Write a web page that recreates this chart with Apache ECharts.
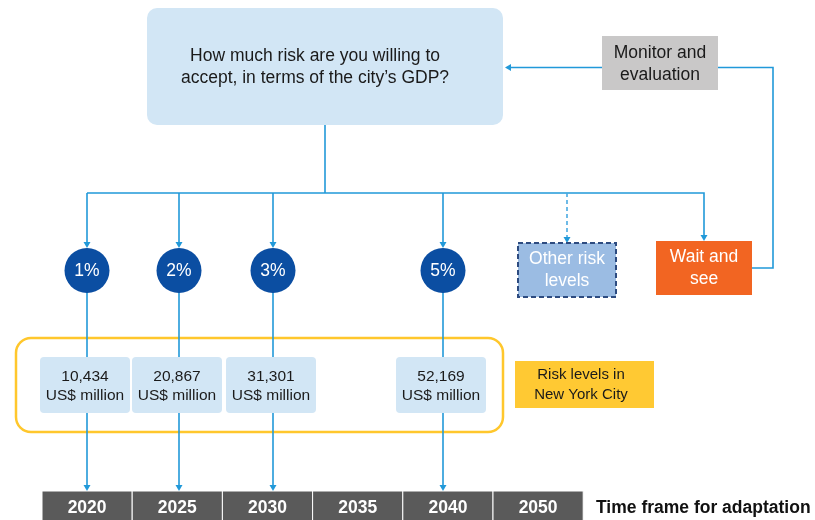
<!DOCTYPE html>
<html>
<head>
<meta charset="utf-8">
<title>Risk levels and time frame for adaptation</title>
<script src="https://cdn.jsdelivr.net/npm/echarts@6/dist/echarts.min.js"></script>
<style>
  html, body { margin: 0; padding: 0; background: #fff; }
  #chart { width: 815px; height: 520px; }
</style>
</head>
<body>
<div id="chart"></div>
<script>
const years = ['2020', '2025', '2030', '2035', '2040', '2050'];
const riskLevels = ['1%', '2%', '3%', '5%'];
const riskYears = ['2020', '2025', '2030', '2040'];
const riskValues = [10434, 20867, 31301, 52169];
const valueUnit = 'US$ million';
const question = ['How much risk are you willing to', 'accept, in terms of the city\u2019s GDP?'];
const monitorLabel = ['Monitor and', 'evaluation'];
const otherLabel = ['Other risk', 'levels'];
const waitLabel = ['Wait and', 'see'];
const riskNote = ['Risk levels in', 'New York City'];
const timeframeLabel = 'Time frame for adaptation';

// layout: both axes run in px over the whole canvas (0..815, 0..520 top-down)
const FONT = '"Liberation Sans", Arial, sans-serif';
const LINE = '#2199d9';
const branchY = 193;
const branchX = [87, 179, 273, 443];   // one column per risk level
const otherX = 567;
const waitX = 704;
const cellLeft = 42;
const cellW = 90.2;
const cellTop = 491;

function rect(api, x0, y0, x1, y1, style, r) {
  const a = api.coord([x0, y0]);
  const b = api.coord([x1, y1]);
  return {
    type: 'rect',
    shape: { x: a[0], y: a[1], width: b[0] - a[0], height: b[1] - a[1], r: r || 0 },
    style: style
  };
}

function line(api, pts, extra) {
  return {
    type: 'polyline',
    shape: { points: pts.map(p => api.coord(p)) },
    style: Object.assign({ fill: null, stroke: LINE, lineWidth: 1.6 }, extra)
  };
}

function arrow(api, x, y, dir) {
  const t = api.coord([x, y]);
  const pts = dir === 'left'
    ? [[t[0] + 6, t[1] - 3.5], [t[0] + 6, t[1] + 3.5], t]
    : [[t[0] - 3.5, t[1] - 6], [t[0] + 3.5, t[1] - 6], t];
  return { type: 'polygon', shape: { points: pts }, style: { fill: LINE } };
}

function text(api, x, y, lines, size, color, weight, lh, align) {
  const p = api.coord([x, y]);
  return {
    type: 'text',
    x: p[0],
    y: p[1],
    style: {
      text: [].concat(lines).join('\n'),
      fill: color,
      fontSize: size,
      fontFamily: FONT,
      fontWeight: weight || 'normal',
      lineHeight: lh || size * 1.2,
      textAlign: align || 'center',
      textVerticalAlign: 'middle'
    }
  };
}

function renderFlow(params, api) {
  const topY = 67.5;
  return {
    type: 'group',
    children: [
      // risk levels frame
      rect(api, 16, 338, 503, 432, { fill: null, stroke: '#ffc72c', lineWidth: 2.5 }, 15),
      rect(api, 515, 361, 654, 408, { fill: '#ffc933' }),
      text(api, 581, 385, riskNote, 15, '#1a1a1a', 'normal', 20),
      // question box
      rect(api, 147, 8, 503, 125, { fill: '#d2e6f5' }, 10),
      text(api, 315, 67, question, 17.5, '#1a1a1a', 'normal', 22),
      // connectors
      line(api, [[325, 125], [325, branchY]]),
      line(api, [[branchX[0], branchY], [waitX, branchY], [waitX, 235]]),
      arrow(api, waitX, 241, 'down'),
      line(api, [[otherX, branchY], [otherX, 237]], { stroke: '#4aaae2', lineDash: [4, 3] }),
      arrow(api, otherX, 243, 'down'),
      // monitor loop
      line(api, [[752, 268], [773, 268], [773, topY], [718, topY]]),
      line(api, [[602, topY], [510, topY]]),
      arrow(api, 505, topY, 'left'),
      rect(api, 602, 36, 718, 90, { fill: '#c9c8c8' }),
      text(api, 660, 64, monitorLabel, 17.5, '#1a1a1a', 'normal', 22),
      // other options
      rect(api, 518, 243, 616, 297, { fill: '#9bbce3', stroke: '#2d4b80', lineWidth: 2, lineDash: [5, 3] }),
      text(api, 567, 270, otherLabel, 17.5, '#ffffff', 'normal', 22),
      rect(api, 656, 241, 752, 295, { fill: '#f26522' }),
      text(api, 704, 268, waitLabel, 17.5, '#ffffff', 'normal', 22),
      // time frame caption
      text(api, 596, 508, timeframeLabel, 17.5, '#111111', 'bold', 20, 'left')
    ]
  };
}

function renderCell(params, api) {
  const i = api.value(0);
  const x0 = cellLeft + i * cellW;
  return {
    type: 'group',
    children: [
      rect(api, x0, cellTop, x0 + cellW, cellTop + 40, { fill: '#5a5a5a', stroke: '#ffffff', lineWidth: 1 }),
      text(api, x0 + cellW / 2, 508.5, years[i], 17.5, '#ffffff', 'bold', 20)
    ]
  };
}

function renderRisk(params, api) {
  const i = api.value(0);
  const x = branchX[i];
  const value = api.value(1);
  return {
    type: 'group',
    children: [
      line(api, [[x, branchY], [x, 242]]),
      arrow(api, x, 248, 'down'),
      line(api, [[x, 292], [x, cellTop - 5]]),
      arrow(api, x, cellTop, 'down'),
      { type: 'circle', shape: (function () { const c = api.coord([x, 270.5]); return { cx: c[0], cy: c[1], r: 22.5 }; })(), style: { fill: '#0b4ea2' } },
      text(api, x, 271.5, riskLevels[i], 17.5, '#ffffff', 'normal', 20),
      rect(api, x - 47, 357, x + 43, 413, { fill: '#d2e6f5' }, 4),
      text(api, x - 2, 386, [value.toLocaleString('en-US'), valueUnit], 15.5, '#1a1a1a', 'normal', 19)
    ]
  };
}

const chart = echarts.init(document.getElementById('chart'));
chart.setOption({
  animation: false,
  grid: { left: 0, right: 0, top: 0, bottom: 0 },
  xAxis: { type: 'value', min: 0, max: 815, show: false },
  yAxis: { type: 'value', min: 0, max: 520, inverse: true, show: false },
  series: [
    { type: 'custom', name: 'flow', data: [[0, 0]], renderItem: renderFlow, silent: true },
    { type: 'custom', name: 'timeline', data: years.map((y, i) => [i, 0]), renderItem: renderCell, silent: true },
    { type: 'custom', name: 'risk', data: riskLevels.map((r, i) => [i, riskValues[i]]), renderItem: renderRisk, silent: true }
  ]
});
</script>
</body>
</html>
